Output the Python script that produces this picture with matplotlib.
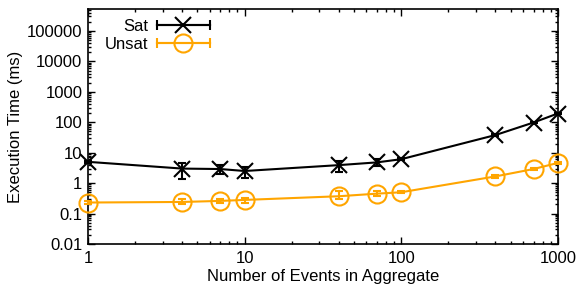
import matplotlib
matplotlib.use("Agg")
import matplotlib.pyplot as plt
import numpy as np
from matplotlib.lines import Line2D
from matplotlib.legend_handler import HandlerLine2D, HandlerTuple
import matplotlib.ticker as ticker

plt.rcParams['font.family'] = ['Liberation Sans', 'DejaVu Sans']

# 資料
events = [1, 4, 7, 10, 40, 70, 100, 400, 700, 1000]
sat = [5.0, 3.0, 2.9, 2.5, 3.9, 4.8, 6.1, 38, 98, 194]
sat_lo = [4.5, 1.4, 2.0, 1.5, 2.4, 3.7, 5.6, 36, 92, 185]
sat_hi = [5.5, 4.5, 4.0, 3.5, 5.4, 6.1, 6.6, 41, 105, 205]
unsat = [0.23, 0.24, 0.26, 0.28, 0.37, 0.45, 0.50, 1.66, 2.9, 4.6]
unsat_lo = [0.21, 0.21, 0.22, 0.23, 0.30, 0.37, 0.46, 1.5, 2.6, 4.2]
unsat_hi = [0.25, 0.31, 0.30, 0.32, 0.53, 0.53, 0.55, 1.8, 3.1, 5.0]

orange = '#ffa500'
fs = 12

fig = plt.figure(figsize=(5.81, 2.87), dpi=100)
ax = fig.add_axes([0.1515, 0.150, 0.8085, 0.8188])

sat_err = [np.array(sat) - np.array(sat_lo), np.array(sat_hi) - np.array(sat)]
unsat_err = [np.array(unsat) - np.array(unsat_lo), np.array(unsat_hi) - np.array(unsat)]

ax.errorbar(events, sat, yerr=sat_err, color='black', lw=1.5, marker='x',
            ms=12, mew=1.5, capsize=3, elinewidth=1.5, capthick=1.5,
            zorder=3, clip_on=False)
ax.errorbar(events, unsat, yerr=unsat_err, color=orange, lw=1.5, marker='o',
            ms=13, mew=1.5, mfc='none', capsize=3, elinewidth=1.5,
            capthick=1.5, zorder=3, clip_on=False)

ax.set_xscale('log')
ax.set_yscale('log')
ax.set_xlim(1, 1000)
ax.set_ylim(0.01, 5.3e5)

ax.xaxis.set_major_locator(ticker.FixedLocator([1, 10, 100, 1000]))
ax.xaxis.set_major_formatter(ticker.FuncFormatter(lambda v, p: '%g' % v))
ax.xaxis.set_minor_locator(ticker.LogLocator(base=10, subs=np.arange(2, 10), numticks=20))
ax.yaxis.set_major_locator(ticker.FixedLocator([0.01, 0.1, 1, 10, 100, 1000, 10000, 100000]))
ax.yaxis.set_major_formatter(ticker.FuncFormatter(lambda v, p: '%g' % v))
ax.yaxis.set_minor_locator(ticker.LogLocator(base=10, subs=np.arange(2, 10), numticks=20))
ax.yaxis.set_minor_formatter(ticker.NullFormatter())
ax.xaxis.set_minor_formatter(ticker.NullFormatter())

ax.tick_params(which='both', direction='in', top=True, right=True, labelsize=fs, width=1)
ax.tick_params(which='major', length=5)
ax.tick_params(which='minor', length=2.5)
ax.tick_params(axis='y', which='major', pad=4)
ax.tick_params(axis='x', which='major', pad=5)
for s in ax.spines.values():
    s.set_linewidth(1.2)

ax.set_xlabel('Number of Events in Aggregate', fontsize=fs)
ax.xaxis.set_label_coords(0.5, -0.105)
ax.set_ylabel('Execution Time (ms)', fontsize=fs)
ax.yaxis.set_label_coords(-0.138, 0.5)

# 圖例 (gnuplot 風格: 文字在左, 線條兩端有橫槓)
h_sat_m = Line2D([], [], color='black', lw=1.5, marker='x', ms=12, mew=1.5)
h_sat_c = Line2D([], [], color='black', lw=1.5, marker='|', ms=7, mew=1.5)
h_uns_m = Line2D([], [], color=orange, lw=1.5, marker='o', ms=13, mew=1.5, mfc='none')
h_uns_c = Line2D([], [], color=orange, lw=1.5, marker='|', ms=7, mew=1.5)
hmap = {h_sat_m: HandlerLine2D(numpoints=1), h_uns_m: HandlerLine2D(numpoints=1),
        h_sat_c: HandlerLine2D(numpoints=2, marker_pad=0),
        h_uns_c: HandlerLine2D(numpoints=2, marker_pad=0),
        tuple: HandlerTuple(ndivide=1)}
leg = ax.legend([(h_sat_c, h_sat_m), (h_uns_c, h_uns_m)], ['Sat', 'Unsat'],
                handler_map=hmap, loc='upper left', bbox_to_anchor=(0.036, 0.958),
                frameon=False, markerfirst=False, handlelength=3.2, handletextpad=0.5,
                labelspacing=0.2, fontsize=fs, borderpad=0, borderaxespad=0)

fig.savefig('out.png', dpi=100)
